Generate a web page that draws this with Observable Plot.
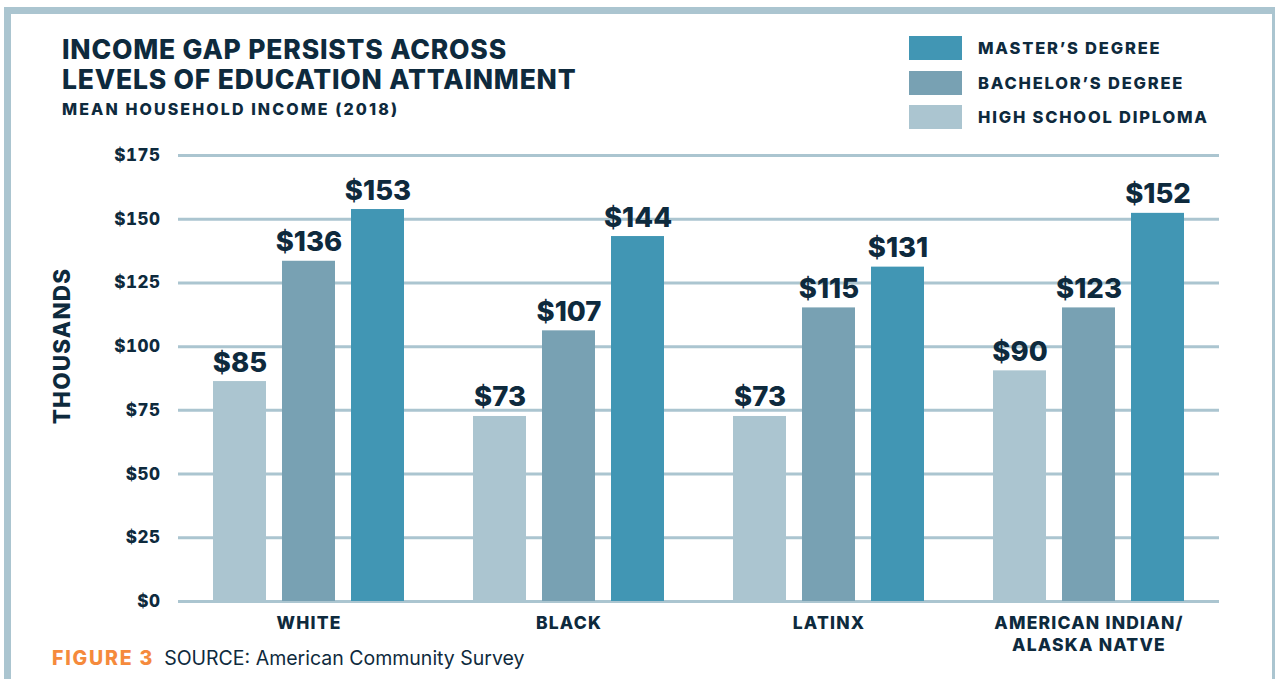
<!DOCTYPE html>
<html>
<head>
<meta charset="utf-8">
<script src="https://cdn.jsdelivr.net/npm/d3@7"></script>
<script src="https://cdn.jsdelivr.net/npm/@observablehq/plot@0.6"></script>
<style>
  html, body { margin: 0; padding: 0; background: #fff; }
  body { width: 1277px; height: 679px; overflow: hidden; position: relative; font-family: Inter, "DejaVu Sans", sans-serif; color: #0e2a3d; }
  #frame { position: absolute; left: 4px; top: 7px; width: 1271px; height: 700px; box-sizing: border-box;
           border-top: 7px solid #abc5d0; border-left: 7px solid #abc5d0; border-right: 3px solid #abc5d0; }
  #title { position: absolute; left: 62px; top: 34px; font-size: 26.5px; font-weight: 800; line-height: 30px; letter-spacing: 0.8px; }
  #subtitle { position: absolute; left: 62px; top: 99px; font-size: 16px; font-weight: 800; letter-spacing: 2.1px; }
  #legend { position: absolute; left: 909px; top: 36px; }
  .lg { display: flex; align-items: center; height: 24px; margin-bottom: 10.5px; }
  .sw { width: 53px; height: 24px; margin-right: 16px; }
  .lt { font-size: 16.5px; font-weight: 800; letter-spacing: 1.8px; }
  #ylabel { position: absolute; left: 61px; top: 346px; transform: translate(-50%, -50%) rotate(-90deg);
            font-size: 22.5px; font-weight: 800; letter-spacing: 1.2px; white-space: nowrap; }
  .layer { position: absolute; left: 40px; top: 130px; }
  #foot { position: absolute; left: 52px; top: 646px; font-size: 19.5px; white-space: nowrap; }
  #foot b { color: #f58a3c; font-weight: 800; margin-right: 10px; letter-spacing: 1.8px; }
  .layer svg { overflow: visible; }
  .layer g[aria-label="y-axis tick label"] text { font-size: 17px; font-weight: 800; fill: #0e2a3d; letter-spacing: 0.5px; }
  .layer g[aria-label="fx-axis tick label"] text { font-size: 17.5px; font-weight: 800; fill: #0e2a3d; letter-spacing: 1.2px; }
</style>
</head>
<body>
<div id="frame"></div>
<div id="title">INCOME GAP PERSISTS ACROSS<br>LEVELS OF EDUCATION ATTAINMENT</div>
<div id="subtitle">MEAN HOUSEHOLD INCOME (2018)</div>
<div id="legend"></div>
<div id="grid" class="layer"></div>
<div id="bars" class="layer"></div>
<div id="ylabel">THOUSANDS</div>
<div id="foot"><b>FIGURE 3</b>SOURCE: American Community Survey</div>
<script>
// ---- data ----
const groups = ["WHITE", "BLACK", "LATINX", "AMERICAN INDIAN/\nALASKA NATVE"];
const degrees = ["HIGH SCHOOL DIPLOMA", "BACHELOR’S DEGREE", "MASTER’S DEGREE"];
const legendOrder = ["MASTER’S DEGREE", "BACHELOR’S DEGREE", "HIGH SCHOOL DIPLOMA"];
const colors = ["#abc5d0", "#78a1b3", "#4196b4"];
// bar heights as drawn (thousands of dollars)
const highSchool = [86.3, 72.6, 72.6, 90.5];
const bachelor   = [133.5, 106.2, 115.2, 115.2];
const master     = [153.8, 143.2, 131.2, 152.3];
// value labels as printed above the bars
const highSchoolLabels = ["$85", "$73", "$73", "$90"];
const bachelorLabels   = ["$136", "$107", "$115", "$123"];
const masterLabels     = ["$153", "$144", "$131", "$152"];
const yTicks = [0, 25, 50, 75, 100, 125, 150, 175];

const series = [highSchool, bachelor, master];
const labels = [highSchoolLabels, bachelorLabels, masterLabels];
const data = [];
groups.forEach((g, i) => degrees.forEach((d, j) => data.push({group: g, degree: d, value: series[j][i], label: labels[j][i]})));

// ---- legend ----
const leg = document.getElementById("legend");
legendOrder.forEach(d => {
  const row = document.createElement("div"); row.className = "lg";
  const sw = document.createElement("div"); sw.className = "sw"; sw.style.background = colors[degrees.indexOf(d)];
  const t = document.createElement("div"); t.className = "lt"; t.textContent = d;
  row.appendChild(sw); row.appendChild(t); leg.appendChild(row);
});

const common = {
  width: 1200,
  height: 540,
  marginTop: 25,
  marginBottom: 69,
  marginLeft: 138,
  marginRight: 21,
  style: {fontFamily: "Inter, 'DejaVu Sans', sans-serif", color: "#0e2a3d", background: "transparent"}
};

// ---- grid + y axis layer ----
const gridPlot = Plot.plot({
  ...common,
  y: {domain: [0, 175], label: null},
  marks: [
    Plot.ruleY(yTicks, {stroke: "#abc5d0", strokeWidth: 3}),
    Plot.axisY({ticks: yTicks, tickFormat: d => "$" + d, tickSize: 0, tickPadding: 18, label: null})
  ]
});
document.getElementById("grid").appendChild(gridPlot);

// ---- bars layer ----
const barPlot = Plot.plot({
  ...common,
  fx: {domain: groups, paddingInner: 0.265, paddingOuter: 0.128, label: null},
  x: {domain: degrees, paddingInner: 0.232, paddingOuter: 0, axis: null},
  y: {domain: [0, 175], axis: null},
  color: {domain: degrees, range: colors},
  marks: [
    Plot.axisFx({anchor: "bottom", tickSize: 0, tickPadding: 12, lineHeight: 1.25, label: null}),
    Plot.barY(data, {fx: "group", x: "degree", y: "value", fill: "degree"}),
    Plot.text(data, {fx: "group", x: "degree", y: "value", text: "label", dy: -10, lineAnchor: "bottom",
                     fontSize: 27.5, fontWeight: 800, fill: "#0e2a3d"})
  ]
});
document.getElementById("bars").appendChild(barPlot);
</script>
</body>
</html>
